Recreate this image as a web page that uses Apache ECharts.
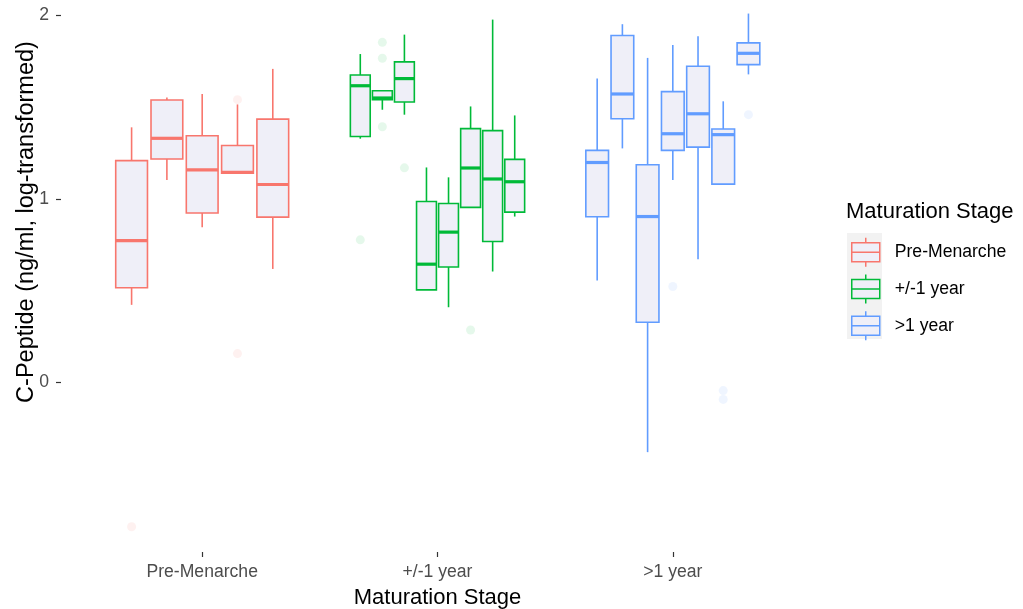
<!DOCTYPE html>
<html>
<head>
<meta charset="utf-8">
<script src="https://cdn.jsdelivr.net/npm/echarts@6/dist/echarts.min.js"></script>
<style>
  html, body { margin: 0; padding: 0; background: #fff; }
  #chart { width: 1023px; height: 609px; }
</style>
</head>
<body>
<div id="chart"></div>
<script>
// Maturation stages (x categories)
const stages = ['Pre-Menarche', '+/-1 year', '>1 year'];
const stageColors = ['#F8766D', '#00BA38', '#619CFF'];

// Box statistics per box: [lower whisker, Q1, median, Q3, upper whisker]
const preMenarcheBoxes = [
  [0.421, 0.514, 0.772, 1.208, 1.390],
  [1.102, 1.217, 1.330, 1.539, 1.553],
  [0.845, 0.922, 1.158, 1.344, 1.572],
  [1.140, 1.140, 1.144, 1.291, 1.515],
  [0.617, 0.900, 1.078, 1.435, 1.709]
];
const aroundMenarcheBoxes = [
  [1.328, 1.340, 1.617, 1.676, 1.790],
  [1.486, 1.541, 1.550, 1.590, 1.590],
  [1.459, 1.528, 1.656, 1.747, 1.896],
  [0.503, 0.503, 0.643, 0.985, 1.171],
  [0.408, 0.628, 0.818, 0.974, 1.117],
  [0.953, 0.953, 1.168, 1.383, 1.504],
  [0.603, 0.767, 1.108, 1.372, 1.978],
  [0.903, 0.927, 1.093, 1.215, 1.455]
];
const postMenarcheBoxes = [
  [0.554, 0.902, 1.198, 1.264, 1.656],
  [1.275, 1.437, 1.572, 1.891, 1.953],
  [-0.383, 0.326, 0.903, 1.186, 1.769],
  [1.102, 1.264, 1.355, 1.585, 1.840],
  [0.670, 1.282, 1.464, 1.723, 1.887],
  [1.080, 1.080, 1.350, 1.381, 1.532],
  [1.679, 1.732, 1.794, 1.851, 2.011]
];

// Outliers: [box index within stage, value]
const preMenarcheOutliers = [[0, -0.790], [3, 1.541], [3, 0.155]];
const aroundMenarcheOutliers = [[0, 0.776], [1, 1.854], [1, 1.767], [1, 1.393], [2, 1.169], [5, 0.284]];
const postMenarcheOutliers = [[3, 0.521], [5, -0.047], [5, -0.095], [6, 1.459]];

const yTicks = [0, 1, 2];

const boxSets = [preMenarcheBoxes, aroundMenarcheBoxes, postMenarcheBoxes];
const outlierSets = [preMenarcheOutliers, aroundMenarcheOutliers, postMenarcheOutliers];

const BOX_FILL = '#EFEFF8';
const DODGE_WIDTH = 0.75;   // share of a category used by its dodged boxes
const BOX_SHARE = 0.9;      // box width relative to its dodge slot

// x position (data units) of a dodged box
function dodgeX(stage, slot, n) {
  const slotW = DODGE_WIDTH / n;
  return (stage + 1) + (slot - (n - 1) / 2) * slotW;
}

function renderBox(params, api) {
  const stage = api.value(0), slot = api.value(1), n = api.value(2);
  const cx = dodgeX(stage, slot, n);
  const half = (DODGE_WIDTH / n) * BOX_SHARE / 2;
  const lo = api.coord([cx, api.value(3)]);
  const q1 = api.coord([cx, api.value(4)]);
  const med = api.coord([cx, api.value(5)]);
  const q3 = api.coord([cx, api.value(6)]);
  const hi = api.coord([cx, api.value(7)]);
  const left = api.coord([cx - half, 0])[0];
  const right = api.coord([cx + half, 0])[0];
  const color = stageColors[stage];
  const lw = 1.6;
  return {
    type: 'group',
    children: [
      { type: 'line', shape: { x1: q3[0], y1: q3[1], x2: hi[0], y2: hi[1] },
        style: { stroke: color, lineWidth: lw } },
      { type: 'line', shape: { x1: q1[0], y1: q1[1], x2: lo[0], y2: lo[1] },
        style: { stroke: color, lineWidth: lw } },
      { type: 'rect', shape: { x: left, y: q3[1], width: right - left, height: q1[1] - q3[1] },
        style: { fill: BOX_FILL, stroke: color, lineWidth: lw } },
      { type: 'line', shape: { x1: left, y1: med[1], x2: right, y2: med[1] },
        style: { stroke: color, lineWidth: lw * 2 } }
    ]
  };
}

function renderOutlier(params, api) {
  const stage = api.value(0), slot = api.value(1), n = api.value(2);
  const p = api.coord([dodgeX(stage, slot, n), api.value(3)]);
  return {
    type: 'circle',
    shape: { cx: p[0], cy: p[1], r: 4.5 },
    style: { fill: stageColors[stage], opacity: 0.1 }
  };
}

const series = [];
boxSets.forEach((boxes, s) => {
  series.push({
    type: 'custom',
    name: stages[s],
    renderItem: renderBox,
    encode: { x: 0, y: [3, 4, 5, 6, 7] },
    itemStyle: { color: BOX_FILL, borderColor: stageColors[s], borderWidth: 1.5 },
    data: boxes.map((b, i) => [s, i, boxes.length].concat(b)),
    z: 3
  });
});
outlierSets.forEach((outs, s) => {
  series.push({
    type: 'custom',
    name: stages[s] + ' outliers',
    renderItem: renderOutlier,
    encode: { x: 0, y: 3 },
    data: outs.map(o => [s, o[0], boxSets[s].length, o[1]]),
    z: 2
  });
});

const FONT = 'Liberation Sans, Arial, Helvetica, sans-serif';

const chart = echarts.init(document.getElementById('chart'), null, { renderer: 'canvas' });
chart.setOption({
  backgroundColor: '#ffffff',
  animation: false,
  textStyle: { fontFamily: FONT },
  title: {
    text: 'Maturation Stage',
    left: 846, top: 201, padding: 0,
    textStyle: { fontFamily: FONT, fontSize: 22, fontWeight: 'normal', color: '#000000' }
  },
  legend: {
    data: stages,
    orient: 'vertical',
    left: 851, top: 237, padding: 0,
    itemWidth: 28, itemHeight: 29, itemGap: 6.3,
    icon: 'path://M0,5L28,5L28,24L0,24Z M0,14.5L28,14.5 M14,0L14,5 M14,24L14,29',
    itemStyle: { color: BOX_FILL, borderWidth: 1.5 },
    textStyle: { fontFamily: FONT, fontSize: 17.6, color: '#000000', padding: [0, 0, 0, 10] },
    selectedMode: false
  },
  graphic: [
    { type: 'rect', left: 847, top: 233, shape: { width: 35, height: 106 },
      style: { fill: '#F2F2F2' }, z: -10 }
  ],
  grid: { left: 61, right: 209, top: 0, bottom: 57, containLabel: false, outerBoundsMode: 'none' },
  xAxis: {
    type: 'value', min: 0.4, max: 3.6,
    axisLine: { show: false, onZero: false },
    splitLine: { show: false },
    axisTick: { show: true, length: 5, lineStyle: { color: '#333333', width: 1.2 }, customValues: [1, 2, 3] },
    axisLabel: {
      customValues: [1, 2, 3],
      formatter: v => stages[Math.round(v) - 1],
      fontSize: 17.6, color: '#4D4D4D', margin: 11, fontFamily: FONT
    },
    name: 'Maturation Stage', nameLocation: 'middle', nameGap: 35, nameMoveOverlap: false,
    nameTextStyle: { fontSize: 22, color: '#000000', fontFamily: FONT }
  },
  yAxis: {
    type: 'value', min: -0.928, max: 2.085,
    axisLine: { show: false, onZero: false },
    splitLine: { show: false },
    axisTick: { show: true, length: 5, lineStyle: { color: '#333333', width: 1.2 }, customValues: yTicks },
    axisLabel: { customValues: yTicks, fontSize: 17.6, color: '#4D4D4D', margin: 12, fontFamily: FONT },
    name: 'C-Peptide (ng/ml, log-transformed)', nameLocation: 'middle', nameGap: 22, nameMoveOverlap: false,
    nameTextStyle: { fontSize: 23.5, color: '#000000', fontFamily: FONT, padding: [0, 0, 0, 108] }
  },
  series: series
});
</script>
</body>
</html>
